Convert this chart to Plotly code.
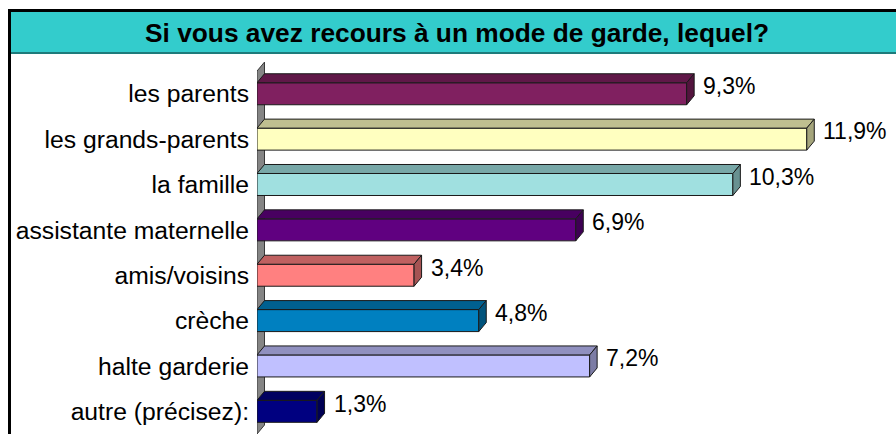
import plotly.graph_objects as go

# Survey answers: which childcare arrangement is used (percent of respondents)
categories = [
    "les parents",
    "les grands-parents",
    "la famille",
    "assistante maternelle",
    "amis/voisins",
    "crèche",
    "halte garderie",
    "autre (précisez):",
]
values = [9.3, 11.9, 10.3, 6.9, 3.4, 4.8, 7.2, 1.3]
bar_colors = [
    "#802060",
    "#FFFFC0",
    "#A0E0E0",
    "#600080",
    "#FF8080",
    "#0080C0",
    "#C0C0FF",
    "#000080",
]
title_text = "Si vous avez recours à un mode de garde, lequel?"

# ---- page geometry -------------------------------------------------------
W, H = 896, 434
ML, MT = 257, 62
PX_PER_X = 46.2
x_max = (W - ML) / PX_PER_X
y_lo, y_hi = -0.5, 7.7
px_per_y = (H - MT) / (y_hi - y_lo)

depth_x = 7.5 / PX_PER_X      # 3D depth offset, x units
depth_y = 9.0 / px_per_y      # 3D depth offset, y units
bar_w = 22.0 / px_per_y       # front face thickness
label_gap = 7.0 / PX_PER_X
FONT = "Liberation Sans, Arial, sans-serif"

n = len(categories)
ypos = [n - 1 - i for i in range(n)]


def shade(hex_color, f):
    h = hex_color.lstrip("#")
    r, g, b = (int(h[i:i + 2], 16) for i in (0, 2, 4))
    return "#{:02X}{:02X}{:02X}".format(int(r * f), int(g * f), int(b * f))


def px_to_paper(px, py):
    return (px - ML) / (W - ML), (H - py) / (H - MT)


fig = go.Figure()

# front faces
fig.add_trace(go.Bar(
    x=values, y=ypos, orientation="h", width=bar_w,
    marker=dict(color=bar_colors, line=dict(color="#1a1a1a", width=1)),
    hoverinfo="skip", showlegend=False,
))

# top and side faces of each bar, plus its value label
for v, y, c in zip(values, ypos, bar_colors):
    top = y + bar_w / 2
    bot = y - bar_w / 2
    fig.add_trace(go.Scatter(
        x=[0, v, v + depth_x, depth_x, 0],
        y=[top, top, top + depth_y, top + depth_y, top],
        mode="lines", fill="toself", fillcolor=shade(c, 0.75),
        line=dict(color="#1a1a1a", width=1),
        hoverinfo="skip", showlegend=False,
    ))
    fig.add_trace(go.Scatter(
        x=[v, v + depth_x, v + depth_x, v, v],
        y=[bot, bot + depth_y, top + depth_y, top, bot],
        mode="lines", fill="toself", fillcolor=shade(c, 0.65),
        line=dict(color="#1a1a1a", width=1),
        hoverinfo="skip", showlegend=False,
    ))
    fig.add_annotation(
        x=v + depth_x + label_gap, y=y + 0.17,
        text=f"{v:.1f}".replace(".", ",") + "%",
        xanchor="left", yanchor="middle", showarrow=False,
        font=dict(family=FONT, size=23, color="#000000"),
    )

shapes = []
# side wall of the 3D plot area
wall_path = (
    f"M 0,{y_lo} L {depth_x},{y_lo + depth_y} "
    f"L {depth_x},{n - 0.5 + depth_y} L 0,{n - 0.5} Z"
)
shapes.append(dict(type="path", path=wall_path, xref="x", yref="y",
                   fillcolor="#858585", line=dict(color="#383838", width=1),
                   layer="below"))


def rect_px(x0, y0, x1, y1, color):
    a0, b0 = px_to_paper(x0, y1)
    a1, b1 = px_to_paper(x1, y0)
    return dict(type="rect", xref="paper", yref="paper",
                x0=a0, y0=b0, x1=a1, y1=b1,
                fillcolor=color, line=dict(width=0), layer="above")


# title band and frame
shapes.append(rect_px(11, 12, 900, 52, "#33CCCC"))
shapes.append(rect_px(11, 52, 900, 54, "#1E7B7B"))
shapes.append(rect_px(8, 9, 900, 12, "#000000"))
shapes.append(rect_px(8, 9, 11, 440, "#000000"))

tx, ty = px_to_paper(457, 33)
fig.add_annotation(
    x=tx, y=ty, xref="paper", yref="paper", text=f"<b>{title_text}</b>",
    xanchor="center", yanchor="middle", showarrow=False,
    font=dict(family=FONT, size=26.3, color="#000000"),
)

fig.update_layout(
    template="none",
    width=W, height=H,
    margin=dict(l=ML, r=0, t=MT, b=0, pad=0),
    paper_bgcolor="#FFFFFF", plot_bgcolor="#FFFFFF",
    shapes=shapes,
    showlegend=False,
    xaxis=dict(range=[0, x_max], visible=False, fixedrange=True,
               automargin=False),
    yaxis=dict(range=[y_lo, y_hi], tickmode="array", tickvals=ypos,
               ticktext=categories, showgrid=False, zeroline=False,
               showline=False, ticks="", ticklabelstandoff=7,
               tickfont=dict(family=FONT, size=24.7, color="#000000"),
               automargin=False, fixedrange=True),
)

fig.write_html("out.html")
